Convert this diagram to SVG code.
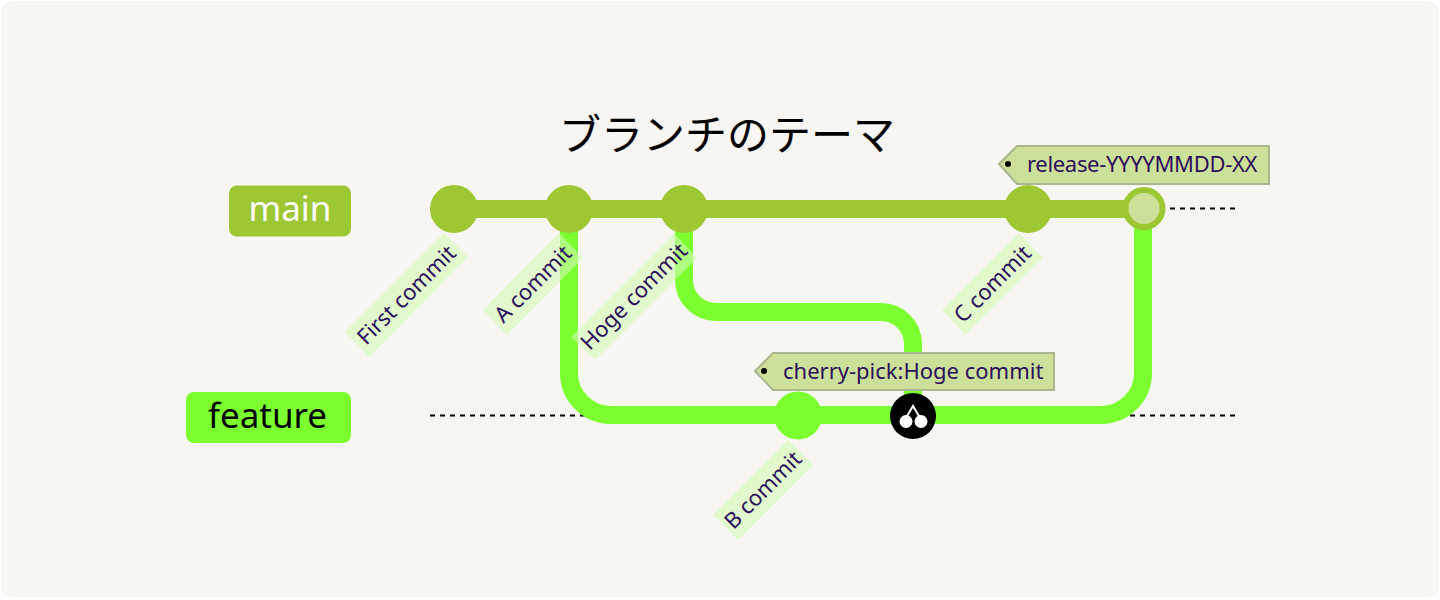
<svg xmlns="http://www.w3.org/2000/svg" width="1440" height="600" viewBox="0 0 1440 600">
<style>
.t{font-family:"Noto Sans","Liberation Sans",sans-serif}
.lab{font-size:22px;fill:#2c0f5c;text-anchor:middle}
.box{fill:#d2fcb4;fill-opacity:.6}
.tagt{font-size:22px;fill:#2c0f5c}
.tag{fill:#cde09a;stroke:#aab68e;stroke-width:2}
.m{fill:#9ec734}
.f{fill:#7bff2f}
.br{font-size:35px;text-anchor:middle}
.ml{stroke:#9ec734;stroke-width:18;fill:none}
.fl{stroke:#7bff2f;stroke-width:18;fill:none}
.d{stroke:#000;stroke-width:2;stroke-dasharray:5 5;fill:none}
</style>
<rect width="1440" height="600" fill="#fff"/>
<rect x="1" y="1" width="1438" height="596" rx="10" fill="#f7f6f3"/>
<text class="t" x="727" y="150" font-size="42" text-anchor="middle" style="font-family:'Noto Sans CJK JP','Noto Sans',sans-serif">ブランチのテーマ</text>
<g id="branch-main"><rect class="m" x="229" y="185.500" width="122" height="51" rx="8"/><text class="t br" x="290" y="221" fill="#fff">main</text></g>
<g id="branch-feature"><rect class="f" x="186" y="392" width="165" height="51" rx="8"/><text class="t br" x="267.500" y="428" fill="#000">feature</text></g>
<g id="connectors">
<path class="d" d="M430 208.500H1235M430 415.500H1235"/>
<path class="ml" d="M454 209H1143"/>
<path class="fl" d="M569 209V373A42 42 0 0 0 611 415H1101A42 42 0 0 0 1143 373V209"/>
<path class="fl" d="M684 209V280A32 32 0 0 0 716 312H881A32 32 0 0 1 913 344V415"/>
</g>
<g id="c-first"><circle class="m" cx="454" cy="209" r="24"/></g>
<g id="c-a"><circle class="m" cx="569" cy="209" r="24"/></g>
<g id="c-hoge"><circle class="m" cx="684" cy="209" r="24"/></g>
<g id="c-c"><circle class="m" cx="1028" cy="209" r="24"/></g>
<g id="c-release"><circle cx="1144" cy="208.500" r="18.500" fill="#cde09a" stroke="#9ec734" stroke-width="6"/></g>
<g id="c-b"><circle class="f" cx="798" cy="415.500" r="24"/></g>
<g id="c-cherry"><circle cx="913" cy="416" r="23" fill="#000"/><circle cx="906" cy="421.500" r="6.500" fill="#fff"/><circle cx="921" cy="421.500" r="6.500" fill="#fff"/><path d="M906.500 417L913 406L919.500 417" fill="none" stroke="#fff" stroke-width="2"/></g>
<g id="l-first"><polygon class="box" points="444,233 468,257 369,357 345,332"/><text class="t lab" transform="translate(406.500 295) rotate(-45)" y="7.500">First commit</text></g>
<g id="l-a"><polygon class="box" points="559,233 583,258 507,335 483,310"/><text class="t lab" transform="translate(533 284) rotate(-45)" y="7.500">A commit</text></g>
<g id="l-hoge"><polygon class="box" points="674,233 697,258 595,360 571,337"/><text class="t lab" transform="translate(634 296.500) rotate(-45)" y="7.500">Hoge commit</text></g>
<g id="l-c"><polygon class="box" points="1019,233 1043,258 965,335 942,310"/><text class="t lab" transform="translate(992.500 284) rotate(-45)" y="7.500">C commit</text></g>
<g id="l-b"><polygon class="box" points="788,440 813,465 738,540 713,515"/><text class="t lab" transform="translate(763 490) rotate(-45)" y="7.500">B commit</text></g>
<g id="tag-release"><polygon class="tag" points="999,164 1017,146 1269,146 1269,184 1017,184"/><circle cx="1008" cy="164" r="3"/><text class="t tagt" x="1027" y="172" letter-spacing="-0.320">release-YYYYMMDD-XX</text></g>
<g id="tag-cherry"><polygon class="tag" points="755,371 773,353 1054,353 1054,390 773,390"/><circle cx="764" cy="371" r="3"/><text class="t tagt" x="783" y="379">cherry-pick:Hoge commit</text></g>
</svg>
